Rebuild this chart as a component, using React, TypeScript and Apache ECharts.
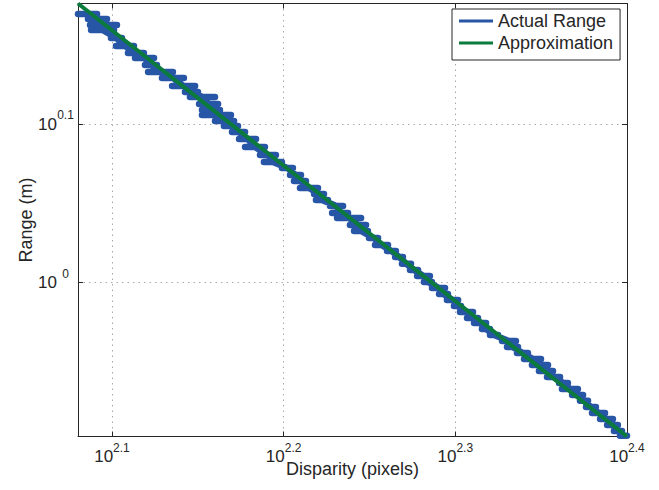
import { useEffect, useRef } from "react";
import * as echarts from "echarts";

// Axis extents (log10 units: axis value v is drawn as 10^v)
const xMin = 2.0802;
const xMax = 2.4;
const yMin = -0.0971;
const yMax = 0.1763;
const xTickExponents = [2.1, 2.2, 2.3, 2.4];
const yTickExponents = [0, 0.1];
const seriesNames = ["Actual Range", "Approximation"];
const xTitle = "Disparity (pixels)";
const yTitle = "Range (m)";

// Actual range measurements: for each log10(range) level, the spread of log10(disparity)
const actualLogRange = [
  0.1697, 0.1665, 0.1627, 0.1596, 0.1545, 0.1495, 0.1451, 0.1419, 0.1375, 0.1331,
  0.1293, 0.1242, 0.1204, 0.1173, 0.1129, 0.1091, 0.1059, 0.1021, 0.099, 0.0952,
  0.0908, 0.0857, 0.0807, 0.0762, 0.0725, 0.068, 0.0642, 0.0598, 0.056, 0.0523,
  0.0485, 0.044, 0.0409, 0.0365, 0.0327, 0.0283, 0.0238, 0.02, 0.0163, 0.0119,
  0.0081, 0.0043, 0.0005, -0.0033, -0.0071, -0.0109, -0.0147, -0.0185, -0.0222, -0.0254,
  -0.0292, -0.033, -0.0368, -0.0406, -0.0443, -0.0481, -0.0519, -0.0557, -0.0595, -0.0633,
  -0.0671, -0.0709, -0.0746, -0.0784, -0.0822, -0.086, -0.0898, -0.0936, -0.0967,
];
const actualLogDispLow = [
  2.0802, 2.086, 2.0872, 2.0878, 2.0994, 2.1023, 2.1093, 2.1134, 2.1192, 2.121,
  2.1291, 2.135, 2.1425, 2.1454, 2.1507, 2.1524, 2.1524, 2.16, 2.1652, 2.1699,
  2.174, 2.1775, 2.1862, 2.1885, 2.199, 2.2037, 2.206, 2.2095, 2.2177, 2.2188,
  2.227, 2.2282, 2.2311, 2.2386, 2.241, 2.2497, 2.2532, 2.2602, 2.2649, 2.2689,
  2.2736, 2.2777, 2.2817, 2.2864, 2.2905, 2.2951, 2.2992, 2.3027, 2.3068, 2.3109,
  2.3155, 2.3202, 2.3272, 2.3301, 2.3359, 2.34, 2.3446, 2.3487, 2.3534, 2.3604,
  2.3621, 2.368, 2.3726, 2.3761, 2.3796, 2.3843, 2.3884, 2.3924, 2.3959,
];
const actualLogDispHigh = [
  2.0913, 2.0971, 2.1029, 2.1012, 2.1058, 2.1128, 2.1186, 2.1245, 2.1262, 2.1355,
  2.1419, 2.1484, 2.1501, 2.16, 2.1618, 2.1629, 2.1693, 2.1711, 2.1734, 2.1775,
  2.1839, 2.1891, 2.1955, 2.199, 2.2054, 2.2101, 2.213, 2.22, 2.2235, 2.2258,
  2.2346, 2.2375, 2.2451, 2.248, 2.2491, 2.255, 2.2608, 2.2654, 2.2695, 2.2742,
  2.2783, 2.2852, 2.2864, 2.294, 2.2957, 2.3016, 2.3033, 2.3103, 2.3132, 2.3179,
  2.3202, 2.3249, 2.3353, 2.3365, 2.3423, 2.3499, 2.354, 2.3569, 2.361, 2.3656,
  2.3714, 2.3744, 2.3773, 2.3819, 2.3872, 2.3918, 2.3947, 2.3971, 2.4,
];

// Approximation (straight line in log-log space)
const approxLogDisparity = [2.0802, 2.4];
const approxLogRange = [0.1763, -0.0971];

const FONT = "'Liberation Sans', Arial, Helvetica, sans-serif";
const TEXT = "#262626";
const FRAME = "#262626";
const BLUE = "#2856A7";
const GREEN = "#0B7B3D";

const fmtExp = (v: number) => `${+v.toFixed(3)}`;

export default function App() {
  const ref = useRef<HTMLDivElement>(null);

  useEffect(() => {
    if (!ref.current) return;
    const chart = echarts.init(ref.current, undefined, { renderer: "svg" });

    // path through each measured level: centre -> low -> high -> centre
    const actualData: number[][] = [];
    actualLogRange.forEach((r, i) => {
      const lo = actualLogDispLow[i];
      const hi = actualLogDispHigh[i];
      const mid = (lo + hi) / 2;
      actualData.push([mid, r], [lo, r], [hi, r], [mid, r]);
    });
    const approxData = approxLogDisparity.map((d, i) => [d, approxLogRange[i]]);

    const baseRich = {
      b: { fontSize: 17, lineHeight: 30, verticalAlign: "middle", fontFamily: FONT, color: TEXT },
      s: { fontSize: 12, lineHeight: 12, verticalAlign: "top", fontFamily: FONT, color: TEXT },
    };
    const yRich = {
      b: baseRich.b,
      s: { ...baseRich.s, width: 17, align: "left" },
    };

    const axisLine = { show: true, onZero: false, lineStyle: { color: FRAME, width: 1 } };
    const tickLine = { color: FRAME, width: 1 };
    const gridLine = { show: true, lineStyle: { color: "#a8a8a8", width: 1, type: [1.5, 4] } };
    const titleStyle = { fontSize: 18, fontFamily: FONT, color: TEXT };

    chart.setOption({
      animation: false,
      backgroundColor: "#ffffff",
      grid: {
        left: 78,
        right: 32,
        top: 3.5,
        bottom: 53.5,
        containLabel: false,
        outerBoundsMode: "none",
      },
      legend: {
        data: seriesNames,
        orient: "vertical",
        left: 452,
        top: 9,
        padding: [1, 7, 6, 7],
        icon: "rect",
        itemWidth: 34,
        itemHeight: 3,
        itemGap: 0,
        borderColor: FRAME,
        borderWidth: 1,
        backgroundColor: "#ffffff",
        textStyle: { fontSize: 18, fontFamily: FONT, color: TEXT, lineHeight: 22 },
      },
      xAxis: [
        {
          type: "value",
          min: xMin,
          max: xMax,
          position: "bottom",
          name: xTitle,
          nameLocation: "middle",
          nameGap: 23,
          nameMoveOverlap: false,
          nameTextStyle: titleStyle,
          axisLine,
          axisTick: { show: true, inside: true, length: 5, customValues: xTickExponents, lineStyle: tickLine },
          axisLabel: {
            show: true,
            customValues: xTickExponents,
            margin: 5,
            formatter: (v: number) => `{b|10}{s|${fmtExp(v)}}`,
            rich: baseRich,
          },
          splitLine: gridLine,
        },
        {
          type: "value",
          min: xMin,
          max: xMax,
          position: "top",
          axisLine,
          axisTick: { show: true, inside: true, length: 5, customValues: xTickExponents, lineStyle: tickLine },
          axisLabel: { show: false },
          splitLine: { show: false },
        },
      ],
      yAxis: [
        {
          type: "value",
          min: yMin,
          max: yMax,
          position: "left",
          name: yTitle,
          nameLocation: "middle",
          nameGap: 43,
          nameMoveOverlap: false,
          nameTextStyle: titleStyle,
          axisLine,
          axisTick: { show: true, inside: true, length: 5, customValues: yTickExponents, lineStyle: tickLine },
          axisLabel: {
            show: true,
            customValues: yTickExponents,
            margin: 4,
            formatter: (v: number) => `{b|10}{s|${fmtExp(v)}}`,
            rich: yRich,
          },
          splitLine: gridLine,
        },
        {
          type: "value",
          min: yMin,
          max: yMax,
          position: "right",
          axisLine,
          axisTick: { show: true, inside: true, length: 5, customValues: yTickExponents, lineStyle: tickLine },
          axisLabel: { show: false },
          splitLine: { show: false },
        },
      ],
      series: [
        {
          name: seriesNames[0],
          type: "line",
          data: actualData,
          showSymbol: false,
          symbol: "none",
          lineStyle: { color: BLUE, width: 6.5, join: "round", cap: "round" },
          itemStyle: { color: BLUE },
          clip: true,
          z: 2,
        },
        {
          name: seriesNames[1],
          type: "line",
          data: approxData,
          showSymbol: false,
          symbol: "none",
          lineStyle: { color: GREEN, width: 4 },
          itemStyle: { color: GREEN },
          clip: true,
          z: 3,
        },
      ],
    });

    return () => chart.dispose();
  }, []);

  return (
    <div
      ref={ref}
      style={{ position: "absolute", left: 0, top: 0, width: 659, height: 490, background: "#fff" }}
    />
  );
}
